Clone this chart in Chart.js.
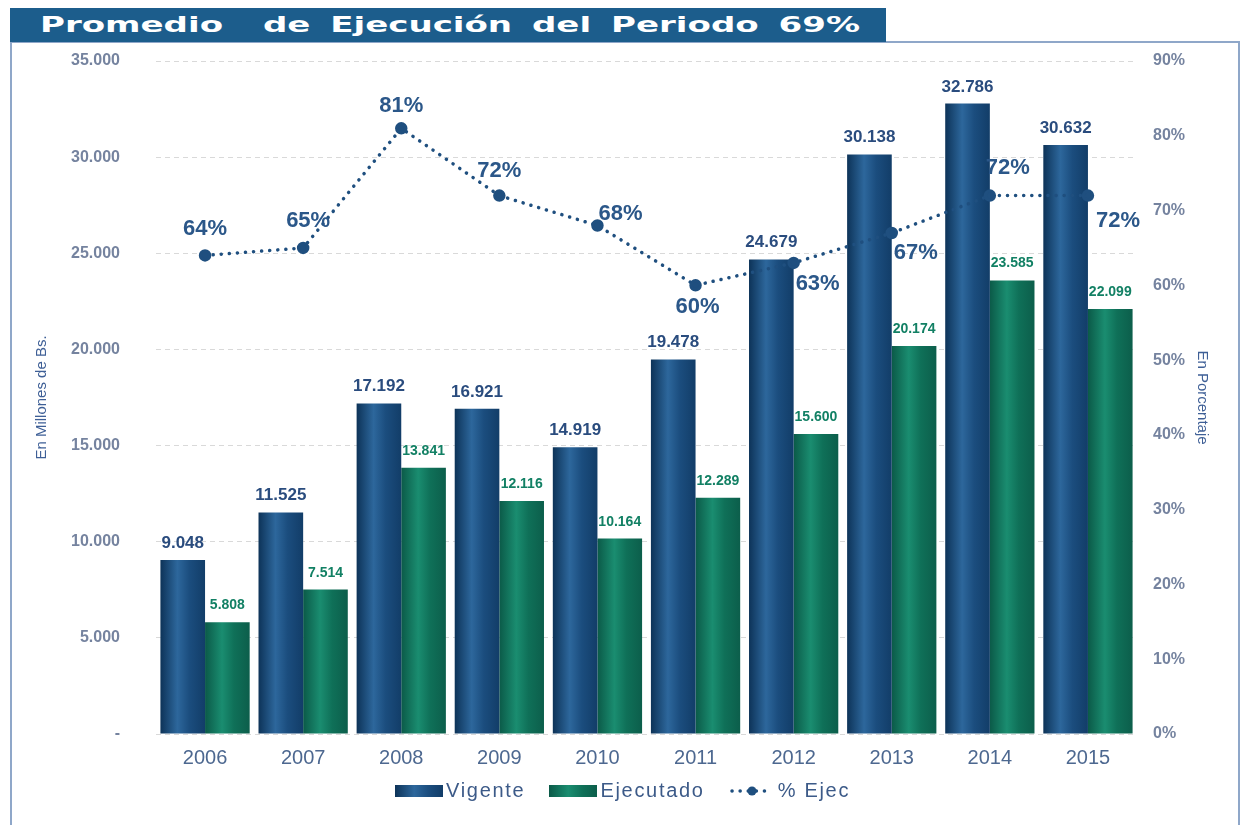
<!DOCTYPE html>
<html lang="es">
<head>
<meta charset="utf-8">
<title>Promedio de Ejecución del Periodo 69%</title>
<script src="https://cdn.jsdelivr.net/npm/chart.js@4.4.1/dist/chart.umd.min.js"></script>
<style>
  html, body { margin: 0; padding: 0; background: #fff; }
  #wrap { position: relative; width: 1241px; height: 825px; overflow: hidden; }
  #frame { position: absolute; left: 10px; top: 41px; width: 1230px; height: 820px;
           border: 2px solid #8fa7c9; box-sizing: border-box; }
  #banner { position: absolute; left: 10px; top: 8px; width: 876px; height: 34px; background: #1c5d8c; }
  #banner span { position: absolute; left: 30px; top: 5px; display: inline-block; white-space: pre;
                 font: bold 21px "DejaVu Sans", sans-serif; color: #fff; word-spacing: 5px;
                 transform-origin: left center; }
  #chart { position: absolute; left: 0; top: 0; }
  #legend { position: absolute; left: 395px; top: 779px; display: flex; align-items: center;
            font: 20px "Liberation Sans", Arial, sans-serif; color: #3c5a88; letter-spacing: 1.7px; }
  #legend .item { display: flex; align-items: center; margin-right: 24px; }
  #legend .sw { width: 48px; height: 12px; margin-right: 3px; }
</style>
</head>
<body>
<div id="wrap">
  <div id="frame"></div>
  <div id="banner"><span id="titleText">Promedio  de Ejecución del Periodo 69%</span></div>
  <canvas id="chart" width="1241" height="825"></canvas>
  <div id="legend">
    <div class="item"><div class="sw" style="background:linear-gradient(to right,#0d3358,#2d679c 40%,#1b4d7e 70%,#123d68)"></div>Vigente</div>
    <div class="item"><div class="sw" style="background:linear-gradient(to right,#0b5a48,#1a8d70 40%,#0f7058 70%,#0c5e4b)"></div>Ejecutado</div>
    <div class="item" style="margin-right:0">
      <svg width="46" height="14" style="margin-right:3px"><line x1="3" y1="7" x2="43" y2="7" stroke="#1f4f7f" stroke-width="3.5" stroke-dasharray="0.1 8" stroke-linecap="round"/><circle cx="23" cy="7" r="4.5" fill="#1f4f7f"/></svg>% Ejec</div>
  </div>
</div>
<script>
const years = ["2006", "2007", "2008", "2009", "2010", "2011", "2012", "2013", "2014", "2015"];
const vigente = [9048, 11525, 17192, 16921, 14919, 19478, 24679, 30138, 32786, 30632];
const ejecutado = [5808, 7514, 13841, 12116, 10164, 12289, 15600, 20174, 23585, 22099];
const pctEjec = [64, 65, 81, 72, 68, 60, 63, 67, 72, 72];

// where each % label sits relative to its point (dx, dy)
const pctLabelOffsets = [[0, -26], [5, -27], [0, -22], [0, -25], [23, -12], [2, 22], [24, 21], [24, 20], [18, -28], [30, 25]];

function fmt(n) {
    return String(n).replace(/\B(?=(\d{3})+(?!\d))/g, ".");
}

// stretch the banner text to the width it has in the original
const t = document.getElementById("titleText");
t.style.transform = "scaleX(" + (820 / t.getBoundingClientRect().width) + ")";

const barGradients = {
    id: "barGradients",
    beforeDatasetsDraw(chart) {
        const ctx = chart.ctx;
        chart.data.datasets.forEach(function (ds, i) {
            if (!ds.gradientStops) return;
            chart.getDatasetMeta(i).data.forEach(function (el) {
                const x0 = el.x - el.width / 2;
                const g = ctx.createLinearGradient(x0, 0, x0 + el.width, 0);
                ds.gradientStops.forEach(function (s) { g.addColorStop(s[0], s[1]); });
                el.options = Object.assign({}, el.options, { backgroundColor: g });
            });
        });
    },
};

const valueLabels = {
    id: "valueLabels",
    afterDatasetsDraw(chart) {
        const ctx = chart.ctx;
        ctx.save();
        ctx.textAlign = "center";
        chart.data.datasets.forEach(function (ds, i) {
            chart.getDatasetMeta(i).data.forEach(function (el, j) {
                const v = ds.data[j];
                if (ds.type === "line") {
                    ctx.font = "bold 22px 'Liberation Sans', Arial, sans-serif";
                    ctx.fillStyle = "#2b5789";
                    ctx.textBaseline = "middle";
                    const o = pctLabelOffsets[j];
                    ctx.fillText(v + "%", el.x + o[0], el.y + o[1]);
                } else if (i === 1) {
                    ctx.font = "bold 17px 'Liberation Sans', Arial, sans-serif";
                    ctx.fillStyle = "#2a4c7e";
                    ctx.textBaseline = "alphabetic";
                    ctx.fillText(fmt(v), el.x, el.y - 12);
                } else {
                    ctx.font = "bold 14px 'Liberation Sans', Arial, sans-serif";
                    ctx.fillStyle = "#128064";
                    ctx.textBaseline = "alphabetic";
                    ctx.fillText(fmt(v), el.x, el.y - 13);
                }
            });
        });
        ctx.restore();
    },
};

const ctx = document.getElementById("chart").getContext("2d");

new Chart(ctx, {
    data: {
        labels: years,
        datasets: [
            {
                type: "line",
                label: "% Ejec",
                data: pctEjec,
                yAxisID: "y1",
                order: 0,
                borderColor: "#1f4f7f",
                backgroundColor: "#1f4f7f",
                borderWidth: 3.5,
                borderDash: [0.1, 8],
                borderCapStyle: "round",
                pointRadius: 4.5,
                pointHoverRadius: 4.5,
                tension: 0,
            },
            {
                type: "bar",
                label: "Vigente",
                data: vigente,
                yAxisID: "y",
                order: 1,
                backgroundColor: "#1b4d7e",
                gradientStops: [[0, "#0d3358"], [0.38, "#2d679c"], [0.65, "#1b4d7e"], [1, "#123d68"]],
                categoryPercentage: 0.91,
                barPercentage: 1,
            },
            {
                type: "bar",
                label: "Ejecutado",
                data: ejecutado,
                yAxisID: "y",
                order: 1,
                backgroundColor: "#0f7058",
                gradientStops: [[0, "#0b5a48"], [0.38, "#1a8d70"], [0.65, "#0f7058"], [1, "#0c5e4b"]],
                categoryPercentage: 0.91,
                barPercentage: 1,
            },
        ],
    },
    options: {
        responsive: false,
        animation: false,
        layout: { padding: { left: 33, right: 30, top: 61, bottom: 43 } },
        plugins: {
            legend: { display: false },
            tooltip: { enabled: false },
        },
        scales: {
            x: {
                grid: { display: false, drawTicks: false },
                border: { display: false },
                ticks: {
                    padding: 12,
                    color: "#4d6890",
                    font: { family: "'Liberation Sans', Arial, sans-serif", size: 20 },
                },
            },
            y: {
                position: "left",
                min: 0,
                max: 35000,
                afterFit: function (scale) { scale.width = 123; },
                grid: { color: "#d9d9d9", drawTicks: false },
                border: { display: false, dash: [5, 4] },
                ticks: {
                    stepSize: 5000,
                    padding: 36,
                    color: "#75839f",
                    font: { family: "'Liberation Sans', Arial, sans-serif", size: 16, weight: "bold" },
                    callback: function (v) { return v === 0 ? "-" : fmt(v); },
                },
                title: {
                    display: true,
                    text: "En Millones de Bs.",
                    color: "#3e5f96",
                    padding: 0,
                    font: { family: "'Liberation Sans', Arial, sans-serif", size: 15 },
                },
            },
            y1: {
                position: "right",
                min: 0,
                max: 90,
                afterFit: function (scale) { scale.width = 74; },
                grid: { display: false, drawTicks: false },
                border: { display: false },
                ticks: {
                    stepSize: 10,
                    padding: 16,
                    color: "#75839f",
                    font: { family: "'Liberation Sans', Arial, sans-serif", size: 16, weight: "bold" },
                    callback: function (v) { return v + "%"; },
                },
                title: {
                    display: true,
                    text: "En Porcentaje",
                    color: "#3e5f96",
                    padding: 0,
                    font: { family: "'Liberation Sans', Arial, sans-serif", size: 15 },
                },
            },
        },
    },
    plugins: [barGradients, valueLabels],
});
</script>
</body>
</html>
